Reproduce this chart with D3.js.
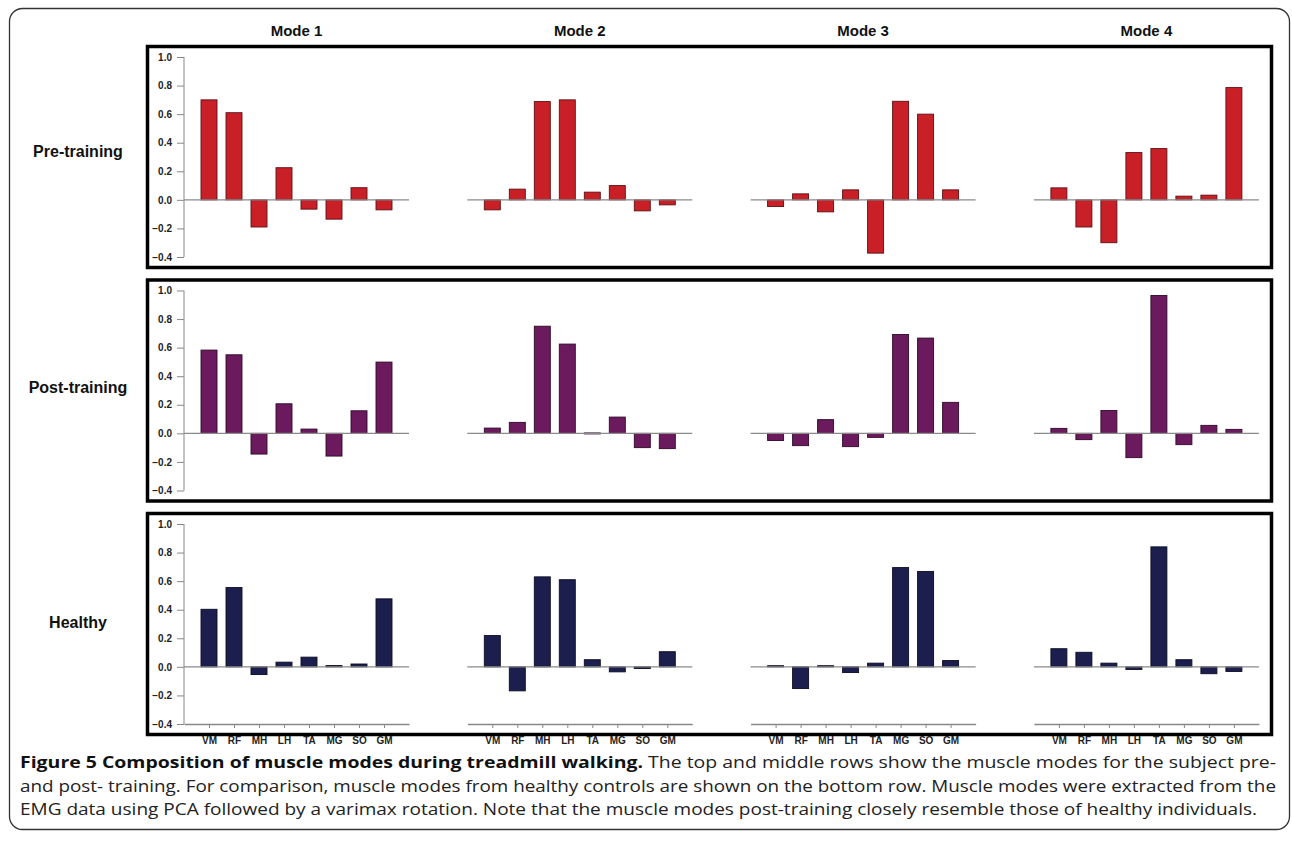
<!DOCTYPE html>
<html>
<head>
<meta charset="utf-8">
<script src="https://cdn.jsdelivr.net/npm/d3@7"></script>
<style>
  body { margin: 0; background: #fff; }
  svg { display: block; }
</style>
</head>
<body>
<div id="chart"></div>
<script>
var width = 1292,
    height = 844;

var muscles = ["VM", "RF", "MH", "LH", "TA", "MG", "SO", "GM"];
var modes = ["Mode 1", "Mode 2", "Mode 3", "Mode 4"];
var conditions = ["Pre-training", "Post-training", "Healthy"];
var yTicks = [1.0, 0.8, 0.6, 0.4, 0.2, 0.0, -0.2, -0.4];

// loadings per mode (VM..GM)
var preTraining = [
    [0.70, 0.61, -0.19, 0.225, -0.065, -0.135, 0.085, -0.07],
    [-0.07, 0.075, 0.688, 0.70, 0.054, 0.10, -0.077, -0.035],
    [-0.047, 0.042, -0.084, 0.07, -0.373, 0.69, 0.60, 0.07],
    [0.084, -0.19, -0.30, 0.331, 0.359, 0.026, 0.033, 0.786]
];
var postTraining = [
    [0.583, 0.55, -0.145, 0.207, 0.03, -0.159, 0.158, 0.499],
    [0.037, 0.077, 0.75, 0.625, 0.003, 0.114, -0.10, -0.107],
    [-0.05, -0.086, 0.096, -0.093, -0.028, 0.692, 0.667, 0.217],
    [0.035, -0.044, 0.16, -0.17, 0.965, -0.079, 0.056, 0.028]
];
var healthy = [
    [0.403, 0.555, -0.054, 0.033, 0.068, 0.009, 0.02, 0.476],
    [0.219, -0.168, 0.63, 0.61, 0.05, -0.035, -0.012, 0.106],
    [0.008, -0.152, 0.008, -0.04, 0.026, 0.695, 0.668, 0.044],
    [0.127, 0.102, 0.026, -0.018, 0.84, 0.05, -0.048, -0.032]
];
var allData = [preTraining, postTraining, healthy];
var fills = ["#c91f27", "#6a1a5d", "#1c1f4d"];
var strokes = ["#5c1013", "#2e0a28", "#0b0c22"];

var captionBold = "Figure 5 Composition of muscle modes during treadmill walking.";
var captionLines = [
    " The top and middle rows show the muscle modes for the subject pre-",
    "and post- training. For comparison, muscle modes from healthy controls are shown on the bottom row. Muscle modes were extracted from the",
    "EMG data using PCA followed by a varimax rotation. Note that the muscle modes post-training closely resemble those of healthy individuals."
];

var svg = d3.select("#chart").append("svg")
    .attr("width", width)
    .attr("height", height);

// outer rounded frame
svg.append("rect")
    .attr("x", 9.5).attr("y", 8.5)
    .attr("width", 1280).attr("height", 821)
    .attr("rx", 13).attr("ry", 13)
    .attr("fill", "none")
    .attr("stroke", "#333")
    .attr("stroke-width", 1.3);

var axisX0 = 184,
    modeStep = 283.3,
    axisW = 225,
    rowTop0 = 57,
    rowStep = 233.5,
    axisH = 200;

var y = d3.scaleLinear().domain([-0.4, 1.0]).range([axisH, 0]);
var x = d3.scalePoint().domain(muscles).range([0, axisW]).padding(1);
var barW = x.step() * 0.64;

// mode titles
svg.selectAll("text.mode").data(modes).enter().append("text")
    .attr("class", "mode")
    .attr("x", function(d, i) { return axisX0 + i * modeStep + axisW / 2; })
    .attr("y", 36)
    .attr("text-anchor", "middle")
    .attr("font-family", "Liberation Sans, Arial, sans-serif")
    .attr("font-weight", "bold")
    .attr("font-size", 15)
    .attr("fill", "#111")
    .text(function(d) { return d; });

conditions.forEach(function(cond, r) {
    var top = rowTop0 + r * rowStep;

    // row panel box
    svg.append("rect")
        .attr("x", 147.5).attr("y", top - 10.5)
        .attr("width", 1124).attr("height", 221)
        .attr("fill", "none")
        .attr("stroke", "#000")
        .attr("stroke-width", 3.5);

    svg.append("text")
        .attr("x", 78).attr("y", top + 100 + r * 2)
        .attr("text-anchor", "middle")
        .attr("font-family", "Liberation Sans, Arial, sans-serif")
        .attr("font-weight", "bold")
        .attr("font-size", 16)
        .attr("fill", "#111")
        .text(cond);

    modes.forEach(function(m, k) {
        var g = svg.append("g")
            .attr("transform", "translate(" + (axisX0 + k * modeStep) + "," + top + ")");

        if (k === 0) {
            var yAxis = g.append("g").call(d3.axisLeft(y).tickValues(yTicks).tickSize(7).tickFormat(d3.format(".1f")));
            yAxis.selectAll("path, line").attr("stroke", "#888");
            yAxis.selectAll("text")
                .attr("font-family", "Liberation Sans, Arial, sans-serif")
                .attr("font-weight", "bold")
                .attr("font-size", 10)
                .attr("fill", "#222")
                .attr("x", -12);
            yAxis.select(".domain").attr("d", "M0," + y(1.0) + "V" + y(-0.4));
        }

        g.selectAll("rect.bar").data(allData[r][k]).enter().append("rect")
            .attr("class", "bar")
            .attr("x", function(d, i) { return x(muscles[i]) - barW / 2; })
            .attr("y", function(d) { return y(Math.max(0, d)); })
            .attr("width", barW)
            .attr("height", function(d) { return Math.max(1, Math.abs(y(d) - y(0))); })
            .attr("fill", fills[r])
            .attr("stroke", strokes[r])
            .attr("stroke-width", 0.9);

        g.append("line")
            .attr("x1", 0).attr("x2", axisW)
            .attr("y1", y(0)).attr("y2", y(0))
            .attr("stroke", "#8a8a8a")
            .attr("stroke-width", 1.4);

        if (r === conditions.length - 1) {
            var xAxis = g.append("g")
                .attr("transform", "translate(0," + y(-0.4) + ")")
                .call(d3.axisBottom(x).tickSize(4).tickPadding(9).tickSizeOuter(0));
            xAxis.selectAll("path, line").attr("stroke", "#888");
            xAxis.select(".domain").attr("stroke-width", 1.4);
            xAxis.selectAll("text")
                .attr("font-family", "Liberation Sans, Arial, sans-serif")
                .attr("font-weight", "bold")
                .attr("font-size", 10)
                .attr("fill", "#222");
        }
    });
});

// caption
var cap = svg.append("g").attr("font-family", "Open Sans, sans-serif").attr("font-size", 16.5).attr("fill", "#222");
var line1 = cap.append("text").attr("x", 20).attr("y", 768)
    .attr("textLength", 1256).attr("lengthAdjust", "spacingAndGlyphs");
line1.append("tspan").attr("font-weight", "bold").attr("fill", "#111").text(captionBold);
line1.append("tspan").text(captionLines[0]);
cap.append("text").attr("x", 20).attr("y", 792)
    .attr("textLength", 1256).attr("lengthAdjust", "spacingAndGlyphs")
    .text(captionLines[1]);
cap.append("text").attr("x", 20).attr("y", 815)
    .attr("textLength", 1237).attr("lengthAdjust", "spacingAndGlyphs")
    .text(captionLines[2]);
</script>
</body>
</html>
